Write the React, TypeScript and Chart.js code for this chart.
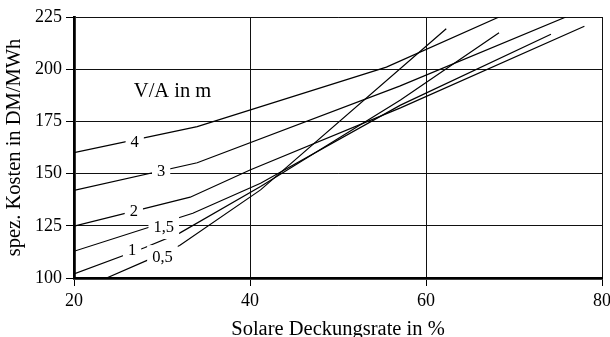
import React, { useEffect, useRef } from 'react';
import { Chart, registerables } from 'chart.js';

Chart.register(...registerables);

// Axes
const xMin = 20;
const xMax = 80;
const xStep = 20;
const yMin = 100;
const yMax = 225;
const yStep = 25;

// Series: V/A in m
const seriesNames = ['4', '3', '2', '1,5', '1', '0,5'];
const x4 = [20, 34, 55.5, 68.3];
const y4 = [160, 172.5, 201, 225];
const x3 = [20, 34, 57, 75.9];
const y3 = [142, 155.2, 191.9, 225];
const x2 = [20, 33.2, 40, 57.1, 78];
const y2 = [124.8, 138.7, 151.7, 181.5, 220.6];
const x15 = [20, 33.5, 41.2, 57.1, 74.2];
const y15 = [112.8, 131, 145.4, 182.8, 216.7];
const x1 = [20, 28, 32, 41.2, 57.1, 68.3];
const y1 = [102, 114.5, 121.5, 143.8, 185.2, 217.5];
const x05 = [23.7, 28.5, 32, 41.2, 62.3];
const y05 = [100, 108.8, 115.6, 142.2, 219.4];

// Curve label positions (data coordinates)
const labelX = [26.9, 29.9, 26.8, 30.2, 26.6, 30.05];
const labelY = [165.4, 151.3, 132.3, 124.4, 113.5, 110];

const noteText = 'V/A in m';
const noteX = 31.2;
const noteY = 186.5;

const xTitle = 'Solare Deckungsrate in %';
const yTitle = 'spez. Kosten in DM/MWh';

const FONT = "'Liberation Serif', 'Times New Roman', serif";

const xs = [x4, x3, x2, x15, x1, x05];
const ys = [y4, y3, y2, y15, y1, y05];

const labelPlugin = {
  id: 'curveLabels',
  afterDatasetsDraw(chart: any) {
    const ctx = chart.ctx;
    const sx = chart.scales.x;
    const sy = chart.scales.y;
    ctx.save();
    ctx.font = `16.5px ${FONT}`;
    ctx.textAlign = 'center';
    ctx.textBaseline = 'middle';
    seriesNames.forEach((name, i) => {
      const px = sx.getPixelForValue(labelX[i]);
      const py = sy.getPixelForValue(labelY[i]);
      const w = ctx.measureText(name).width + 10;
      const h = 24;
      ctx.fillStyle = '#fff';
      ctx.fillRect(px - w / 2, py - h / 2, w, h);
      ctx.fillStyle = '#000';
      ctx.fillText(name, px, py + 1);
    });
    ctx.font = `20.5px ${FONT}`;
    ctx.textBaseline = 'alphabetic';
    ctx.fillStyle = '#000';
    ctx.fillText(noteText, sx.getPixelForValue(noteX), sy.getPixelForValue(noteY));
    ctx.restore();
  },
};

export default function App() {
  const ref = useRef<HTMLCanvasElement | null>(null);

  useEffect(() => {
    if (!ref.current) return;
    const datasets = seriesNames.map((name, i) => ({
      label: name,
      data: xs[i].map((x, j) => ({ x, y: ys[i][j] })),
      borderColor: '#000',
      borderWidth: 1.2,
      pointRadius: 0,
      fill: false,
      tension: 0,
    }));
    const chart = new Chart(ref.current, {
      type: 'line',
      data: { datasets },
      options: {
        animation: false,
        responsive: false,
        devicePixelRatio: 1,
        layout: { padding: { left: 2, right: 18, top: 17, bottom: 0 } },
        plugins: { legend: { display: false }, tooltip: { enabled: false } },
        scales: {
          x: {
            type: 'linear',
            min: xMin,
            max: xMax,
            afterFit: (s: any) => {
              s.height = 64;
            },
            ticks: {
              stepSize: xStep,
              color: '#000',
              padding: 4,
              font: { family: FONT, size: 18 },
            },
            grid: { color: '#111', lineWidth: 1, tickLength: 8, tickColor: '#000' },
            border: { display: true, color: '#000', width: 2.8 },
            title: {
              display: true,
              text: xTitle,
              color: '#000',
              padding: { top: 0, bottom: 0 },
              font: { family: FONT, size: 20.5 },
            },
          },
          y: {
            type: 'linear',
            min: yMin,
            max: yMax,
            afterFit: (s: any) => {
              s.width = 72;
            },
            ticks: {
              stepSize: yStep,
              color: '#000',
              padding: 4,
              font: { family: FONT, size: 18 },
            },
            grid: { color: '#111', lineWidth: 1, tickLength: 8, tickColor: '#000' },
            border: { display: true, color: '#000', width: 2.8 },
            title: {
              display: true,
              text: yTitle,
              color: '#000',
              padding: { top: 0, bottom: 0 },
              font: { family: FONT, size: 20.5 },
            },
          },
        },
      },
      plugins: [labelPlugin],
    });
    return () => chart.destroy();
  }, []);

  return (
    <div
      style={{
        position: 'fixed',
        left: 0,
        top: 0,
        width: 610,
        height: 337,
        overflow: 'hidden',
        background: '#fff',
      }}
    >
      <canvas ref={ref} width={620} height={342} style={{ display: 'block' }} />
    </div>
  );
}
